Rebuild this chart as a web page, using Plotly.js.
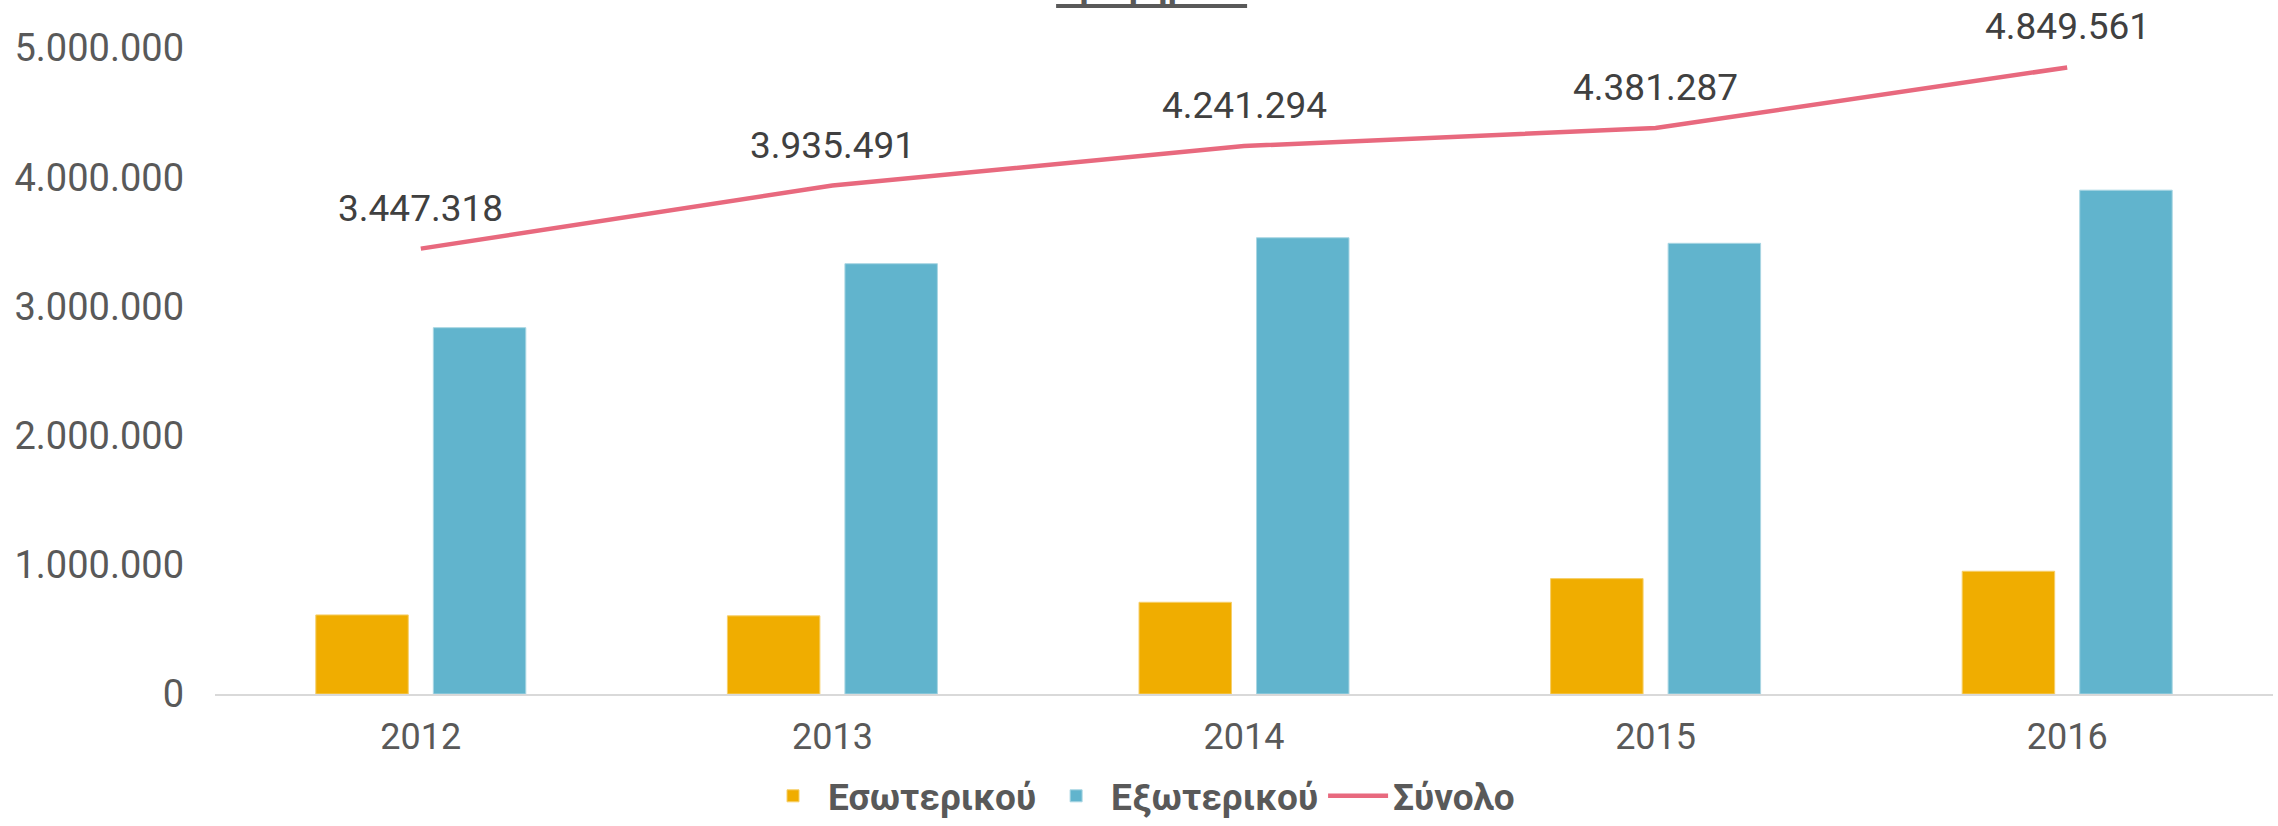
<!DOCTYPE html>
<html>
<head>
<meta charset="utf-8">
<script src="https://cdn.plot.ly/plotly-3.0.1.min.js"></script>
<style>html,body{margin:0;padding:0;background:#fff;}#chart{width:2278px;height:826px;}</style>
</head>
<body>
<div id="chart"></div>
<script>
var years = ['2012', '2013', '2014', '2015', '2016'];
var domestic = [612000, 605000, 710000, 893000, 950000];
var foreign = [2835318, 3330491, 3531294, 3488287, 3899561];
var totals = [3447318, 3935491, 4241294, 4381287, 4849561];
var totalLabels = ['3.447.318', '3.935.491', '4.241.294', '4.381.287', '4.849.561'];
var seriesNames = ['Εσωτερικού', 'Εξωτερικού', 'Σύνολο'];
var titleText = 'Γράφημα 1';

var traces = [
  {type: 'bar', name: seriesNames[0], x: years, y: domestic,
   marker: {color: '#F0AD00', line: {color: '#F6CF6A', width: 1}}, hoverinfo: 'x+y'},
  {type: 'bar', name: seriesNames[1], x: years, y: foreign,
   marker: {color: '#61B4CD', line: {color: '#A9D6E3', width: 1}}, hoverinfo: 'x+y'},
  {type: 'scatter', mode: 'lines', name: seriesNames[2], x: years, y: totals,
   line: {color: '#E8697E', width: 4.5}, hoverinfo: 'x+y'}
];

var annotations = years.map(function (yr, i) {
  return {x: i, y: totals[i], xref: 'x', yref: 'y', text: totalLabels[i],
    showarrow: false, yanchor: 'bottom', yshift: 17,
    font: {family: 'Roboto, sans-serif', size: 37, color: '#404040'}};
});
annotations.push({xref: 'paper', yref: 'paper', x: 0.455, y: 1.0619, xanchor: 'center', yanchor: 'bottom',
  text: '<b>' + titleText + '</b>', showarrow: false,
  font: {family: 'Roboto, sans-serif', size: 36, color: '#595959'}});

var layout = {
  width: 2278, height: 826,
  margin: {l: 215, r: 5, t: 48, b: 132},
  paper_bgcolor: '#ffffff', plot_bgcolor: '#ffffff',
  separators: ',.',
  barmode: 'group', bargap: 0.429, bargroupgap: 0.213,
  showlegend: true,
  font: {family: 'Roboto, sans-serif', size: 36, color: '#595959'},
  xaxis: {type: 'category', range: [-0.5, years.length - 0.5], autorange: false,
    showgrid: false, zeroline: false, showline: true,
    linecolor: '#D9D9D9', linewidth: 2, ticks: '', ticklabelstandoff: 10,
    tickfont: {family: 'Roboto, sans-serif', size: 36, color: '#595959'}},
  yaxis: {range: [0, 5000000], autorange: false, dtick: 1000000, tick0: 0, tickformat: ',d',
    showgrid: false, zeroline: false, showline: false, ticks: '', ticklabelstandoff: 30,
    tickfont: {family: 'Roboto, sans-serif', size: 38, color: '#595959'}},
  legend: {orientation: 'h', xref: 'container', yref: 'container', x: 0.5, y: 0.036,
    xanchor: 'center', yanchor: 'middle', itemwidth: 60,
    font: {family: 'Roboto, sans-serif', size: 37, color: '#595959', weight: 'bold'}},
  annotations: annotations,
  shapes: [{type: 'line', xref: 'paper', yref: 'paper', x0: 0.4087, x1: 0.5015, y0: 1.065, y1: 1.065,
    line: {color: '#595959', width: 4}}]
};

Plotly.newPlot('chart', traces, layout, {displayModeBar: false, staticPlot: true});
</script>
</body>
</html>
